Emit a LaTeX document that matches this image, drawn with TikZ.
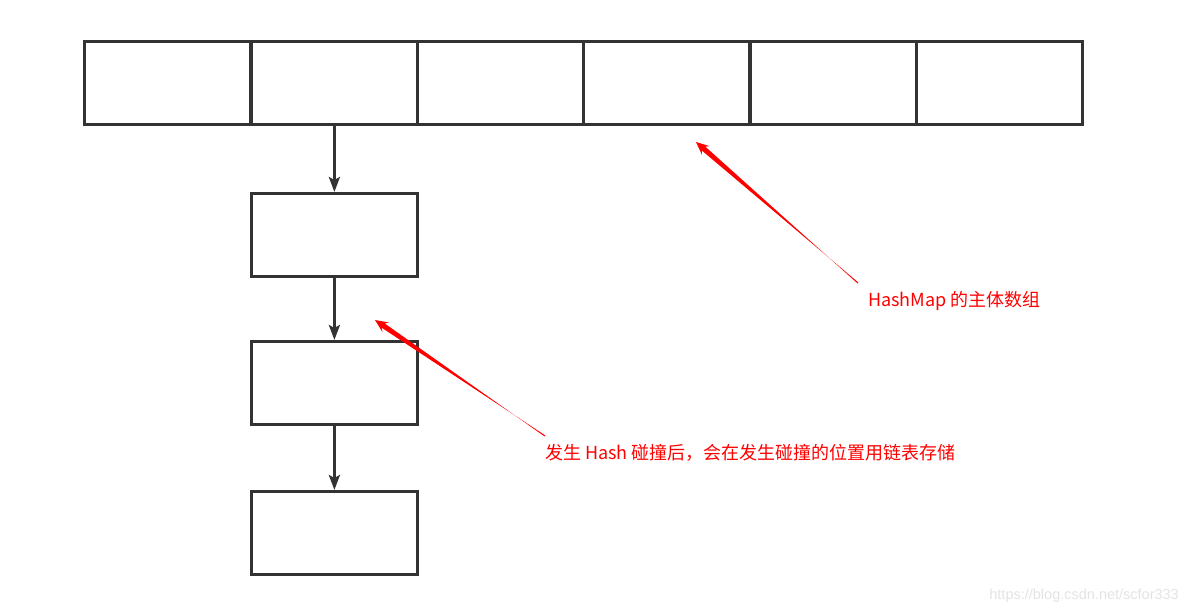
\documentclass[tikz,border=0pt]{standalone}
\usepackage{fontspec}
\setmainfont{Liberation Sans}
\newfontfamily\cjk{Noto Sans CJK SC}
\newfontfamily\wmfont{Liberation Sans}
\usetikzlibrary{arrows.meta,calc}
\definecolor{boxline}{HTML}{333333}
\definecolor{wm}{HTML}{E3E3E3}
\tikzset{
  cell/.style={draw=boxline,line width=2.8pt,minimum width=166pt,minimum height=83pt,inner sep=0pt,anchor=north west},
  link/.style={draw=boxline,line width=2.8pt,-{Stealth[length=15pt,width=11pt,inset=3pt]}},
  note/.style={text=red,font=\cjk\fontsize{18}{20}\selectfont,anchor=west,inner sep=0pt},
}
\newcommand{\taperarrow}[2]{%
  \fill[red] ($(#1)!0.6pt!90:(#2)$) --
    ($($(#2)!10pt!(#1)$)!2.6pt!-90:(#2)$) --
    ($($(#2)!13pt!(#1)$)!5.8pt!-90:(#2)$) --
    (#2) --
    ($($(#2)!13pt!(#1)$)!5.8pt!90:(#2)$) --
    ($($(#2)!10pt!(#1)$)!2.6pt!90:(#2)$) --
    ($(#1)!0.6pt!-90:(#2)$) -- cycle;}
\begin{document}
\begin{tikzpicture}[x=1pt,y=-1pt]
\useasboundingbox (0,0) rectangle (1187,615);
\node[cell] (c1) at (83,40) {};
\node[cell] (c2) at (250,40) {};
\node[cell] (c3) at (416,40) {};
\node[cell] (c4) at (582,40) {};
\node[cell] (c5) at (749,40) {};
\node[cell] (c6) at (915,40) {};
\node[cell] (b1) at (250,192) {};
\node[cell] (b2) at (250,340) {};
\node[cell] (b3) at (250,490) {};
\draw[link] (c2.south) -- (b1.north);
\draw[link] (b1.south) -- (b2.north);
\draw[link] (b2.south) -- (b3.north);
\node[note] (n1) at (868,301) {HashMap 的主体数组};
\node[note] (n2) at (545,453) {发生 Hash 碰撞后，会在发生碰撞的位置用链表存储};
\coordinate (t1) at (858,283);
\coordinate (h1) at (696,142);
\coordinate (t2) at (545,436);
\coordinate (h2) at (375,320);
\taperarrow{t1}{h1}
\taperarrow{t2}{h2}
\node[text=wm,font=\wmfont\fontsize{14.5}{16}\selectfont,anchor=east,inner sep=0pt] (wmk) at (1179,596) {https://blog.csdn.net/scfor333};
\end{tikzpicture}
\end{document}
